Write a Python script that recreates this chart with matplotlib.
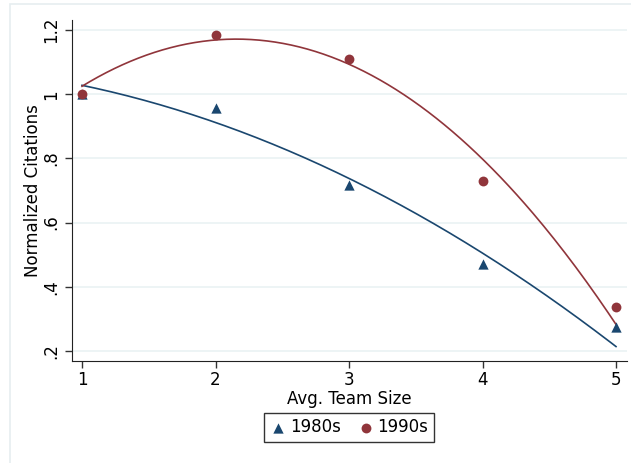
import matplotlib.pyplot as plt
import numpy as np
from matplotlib.patches import Rectangle

team_size = [1, 2, 3, 4, 5]
cit_1980s = [1.0, 0.957, 0.716, 0.472, 0.275]
cit_1990s = [1.0, 1.183, 1.109, 0.731, 0.338]
# quadratic fit lines, values at each team size
fit_1980s = [1.025, 0.919, 0.733, 0.504, 0.215]
fit_1990s = [1.025, 1.167, 1.098, 0.794, 0.284]

yticks = [0.2, 0.4, 0.6, 0.8, 1.0, 1.2]
yticklabels = ['.2', '.4', '.6', '.8', '1', '1.2']

NAVY = '#1a476f'
MAROON = '#90353b'
GRID = '#eaf2f3'

fig = plt.figure(figsize=(6.31, 4.63), dpi=100)
fig.patches.append(Rectangle((10 / 631, -0.01), 1.0, 1 - 4 / 463 + 0.01, transform=fig.transFigure,
                             fill=False, edgecolor='#e6eef0', linewidth=1.2))
ax = fig.add_axes([72 / 631, 1 - 361 / 463, 555 / 631, 341 / 463])

xs = np.linspace(1, 5, 200)
for fit, col in [(fit_1980s, NAVY), (fit_1990s, MAROON)]:
    coef = np.polyfit(team_size, fit, 2)
    ax.plot(xs, np.polyval(coef, xs), color=col, linewidth=1.2, zorder=2)

ax.scatter(team_size, cit_1980s, marker='^', s=55, color=NAVY, zorder=3, label='1980s', linewidths=0)
ax.scatter(team_size, cit_1990s, marker='o', s=50, color=MAROON, zorder=3, label='1990s', linewidths=0)

ax.set_xlim(1 - 10 / 133.5, 5 + 11 / 133.5)
ax.set_ylim(0.2 - 10 / 320, 1.2 + 10 / 320)
ax.set_xticks(team_size)
ax.set_yticks(yticks)
ax.set_yticklabels(yticklabels, rotation=90, va='center')
ax.tick_params(labelsize=12, length=5, width=1, color='#333333')
ax.tick_params(axis='x', pad=2)
ax.yaxis.grid(True, color=GRID, linewidth=1.2)
ax.set_axisbelow(True)
for s in ['top', 'right']:
    ax.spines[s].set_visible(False)
for s in ['left', 'bottom']:
    ax.spines[s].set_color('#222222')

ax.set_xlabel('Avg. Team Size', fontsize=12, labelpad=1)
ax.set_ylabel('Normalized Citations', fontsize=12)
ax.yaxis.set_label_coords(-0.054, 0.5)

leg = fig.legend(loc='center', bbox_to_anchor=(349 / 631, 1 - 427.5 / 463), ncol=2, fontsize=12,
                 frameon=True, fancybox=False, handletextpad=0.2, columnspacing=1.0,
                 borderpad=0.35, handlelength=1.0)
leg.get_frame().set_edgecolor('black')
leg.get_frame().set_linewidth(1.0)

fig.savefig('out.png', dpi=100)
